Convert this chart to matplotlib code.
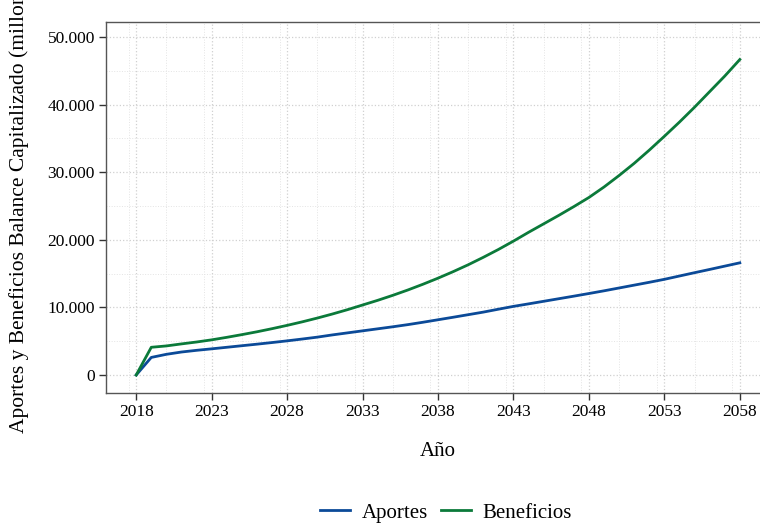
import numpy as np
import matplotlib
matplotlib.use("Agg")
import matplotlib.pyplot as plt
from matplotlib.ticker import FuncFormatter, MultipleLocator

years = list(range(2018, 2059))

aportes = [0, 2600, 3060, 3400, 3650, 3870, 4100, 4330, 4560, 4800,
           5050, 5320, 5600, 5930, 6230, 6530, 6830, 7130, 7450, 7800,
           8170, 8540, 8920, 9300, 9730, 10150, 10520, 10900, 11280, 11660,
           12050, 12450, 12870, 13290, 13710, 14150, 14640, 15130, 15610, 16100,
           16590]

beneficios = [0, 4100, 4300, 4600, 4880, 5200, 5570, 5970, 6390, 6850,
              7340, 7860, 8420, 9020, 9660, 10350, 11040, 11780, 12570, 13420,
              14320, 15280, 16300, 17400, 18560, 19800, 21100, 22350, 23600, 24900,
              26250, 27800, 29500, 31300, 33250, 35300, 37400, 39600, 41900, 44200,
              46650]

plt.rcParams['font.family'] = ['Liberation Serif', 'DejaVu Serif']

fig = plt.figure(figsize=(7.6, 5.25), dpi=100)
ax = fig.add_axes([106 / 760, 132 / 525, 664 / 760, 371 / 525])

ax.plot(years, aportes, color='#0b4a98', lw=2.0, label='Aportes')
ax.plot(years, beneficios, color='#0b7a3a', lw=2.0, label='Beneficios')

ax.set_xlim(2016, 2060)
ax.set_ylim(-2660, 52200)
ax.xaxis.set_minor_locator(MultipleLocator(2.5))
ax.yaxis.set_major_locator(MultipleLocator(10000))
ax.yaxis.set_minor_locator(MultipleLocator(5000))
ax.set_xticks(range(2018, 2059, 5))
ax.yaxis.set_major_formatter(FuncFormatter(lambda v, p: f"{int(v):,}".replace(",", ".")))

ax.grid(which='major', color='#d0d0d0', linestyle=':', lw=0.9)
ax.grid(which='minor', color='#e4e4e4', linestyle=':', lw=0.7)
ax.set_axisbelow(True)

for s in ax.spines.values():
    s.set_color('#555555')
    s.set_linewidth(1.0)

ax.tick_params(which='major', length=5, width=1, color='#333333',
               labelsize=12.5, labelcolor='black', pad=3)
ax.tick_params(which='minor', length=0)

ax.set_xlabel('Año', fontsize=15, labelpad=16)
ax.set_ylabel('Aportes y Beneficios Balance Capitalizado (millones)', fontsize=15.5)
ax.yaxis.set_label_coords(-0.116, 0.519)

fig.legend(loc='center', bbox_to_anchor=(446 / 760, 12 / 525), ncol=2, frameon=False,
           fontsize=15, handlelength=1.45, columnspacing=0.6, handletextpad=0.55)

fig.savefig('out.png', dpi=100)
